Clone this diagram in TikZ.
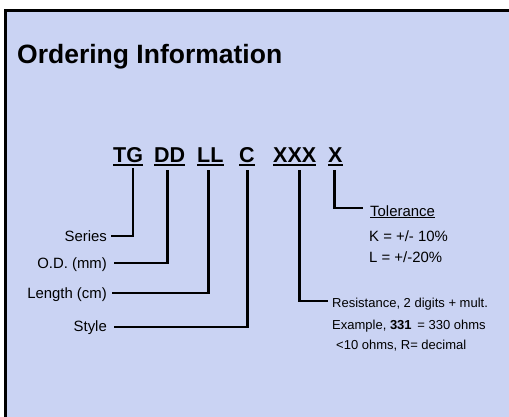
\documentclass[tikz,border=0pt]{standalone}
\usepackage{fontspec}
\setmainfont{Liberation Sans}
\definecolor{panel}{HTML}{CAD3F3}
\tikzset{
  lbl/.style={inner sep=0pt, font=\fontsize{14.9}{17}\selectfont},
  small/.style={inner sep=0pt, font=\fontsize{13}{15}\selectfont},
  code/.style={inner sep=0pt, font=\fontsize{21.5}{24}\selectfont\bfseries},
  conn/.style={line width=2.7pt, line join=miter, line cap=rect},
  uline/.style={line width=1.9pt},
}
\begin{document}
\begin{tikzpicture}[x=1pt,y=-1pt]
\useasboundingbox (0,0) rectangle (509,417);
\fill[white] (0,0) rectangle (509,417);
\fill[panel] (5.5,10.5) rectangle (509,417);
\draw[line width=3pt] (5.5,417) -- (5.5,10.5) -- (509,10.5);

\node[anchor=base west, inner sep=0pt, font=\fontsize{26.5}{29}\selectfont\bfseries] (title) at (17,64) {Ordering Information};

% code letters
\node[code, anchor=base west] (tg)  at (113,162.5) {TG};
\node[code, anchor=base west] (dd)  at (154,162.5) {DD};
\node[code, anchor=base west] (ll)  at (197,162.5) {LL};
\node[code, anchor=base west] (cc)  at (239,162.5) {C};
\node[code, anchor=base west] (xxx) at (273,162.5) {XXX};
\node[code, anchor=base west] (x)   at (328,162.5) {X};
\foreach \n in {tg,dd,ll,cc,xxx,x}
  \draw[uline] ([yshift=-2.5pt]\n.base west) -- ([yshift=-2.5pt]\n.base east);

% left labels
\node[lbl, anchor=base east] (series) at (107,241) {Series};
\node[lbl, anchor=base east] (od)     at (107,268) {O.D. (mm)};
\node[lbl, anchor=base east] (len)    at (107,298) {Length (cm)};
\node[lbl, anchor=base east] (style)  at (107,331) {Style};

% right texts
\node[lbl, anchor=base west] (tol) at (370,216) {\underline{Tolerance}};
\node[lbl, anchor=base west] (k)   at (369,241) {K = +/- 10\%};
\node[lbl, anchor=base west] (l)   at (369,262) {L = +/-20\%};
\node[small, anchor=base west] (res1) at (332,307) {Resistance, 2 digits + mult.};
\node[small, anchor=base west] (res2) at (332,329) {Example, \textbf{331}\, = 330 ohms};
\node[small, anchor=base west] (res3) at (336,349) {<10 ohms, R= decimal};

% connectors
\draw[conn] ([xshift=5pt,yshift=-6.5pt]tg.south) |- ([xshift=5pt,yshift=5pt]series.base east);
\draw[conn] ([xshift=-2pt,yshift=-8.5pt]dd.south) |- ([xshift=8pt,yshift=5pt]od.base east);
\draw[conn] ([xshift=-1.5pt,yshift=-8.5pt]ll.south) |- ([xshift=6pt,yshift=5pt]len.base east);
\draw[conn] ([xshift=0.5pt,yshift=-8.5pt]cc.south) |- ([xshift=8pt,yshift=4pt]style.base east);
\draw[conn] ([xshift=5pt,yshift=-8.5pt]xxx.south) |- ([xshift=-5pt,yshift=6pt]res1.base west);
\draw[conn] ([xshift=-1pt,yshift=-8.5pt]x.south) |- ([xshift=-8pt,yshift=8pt]tol.base west);
\end{tikzpicture}
\end{document}
